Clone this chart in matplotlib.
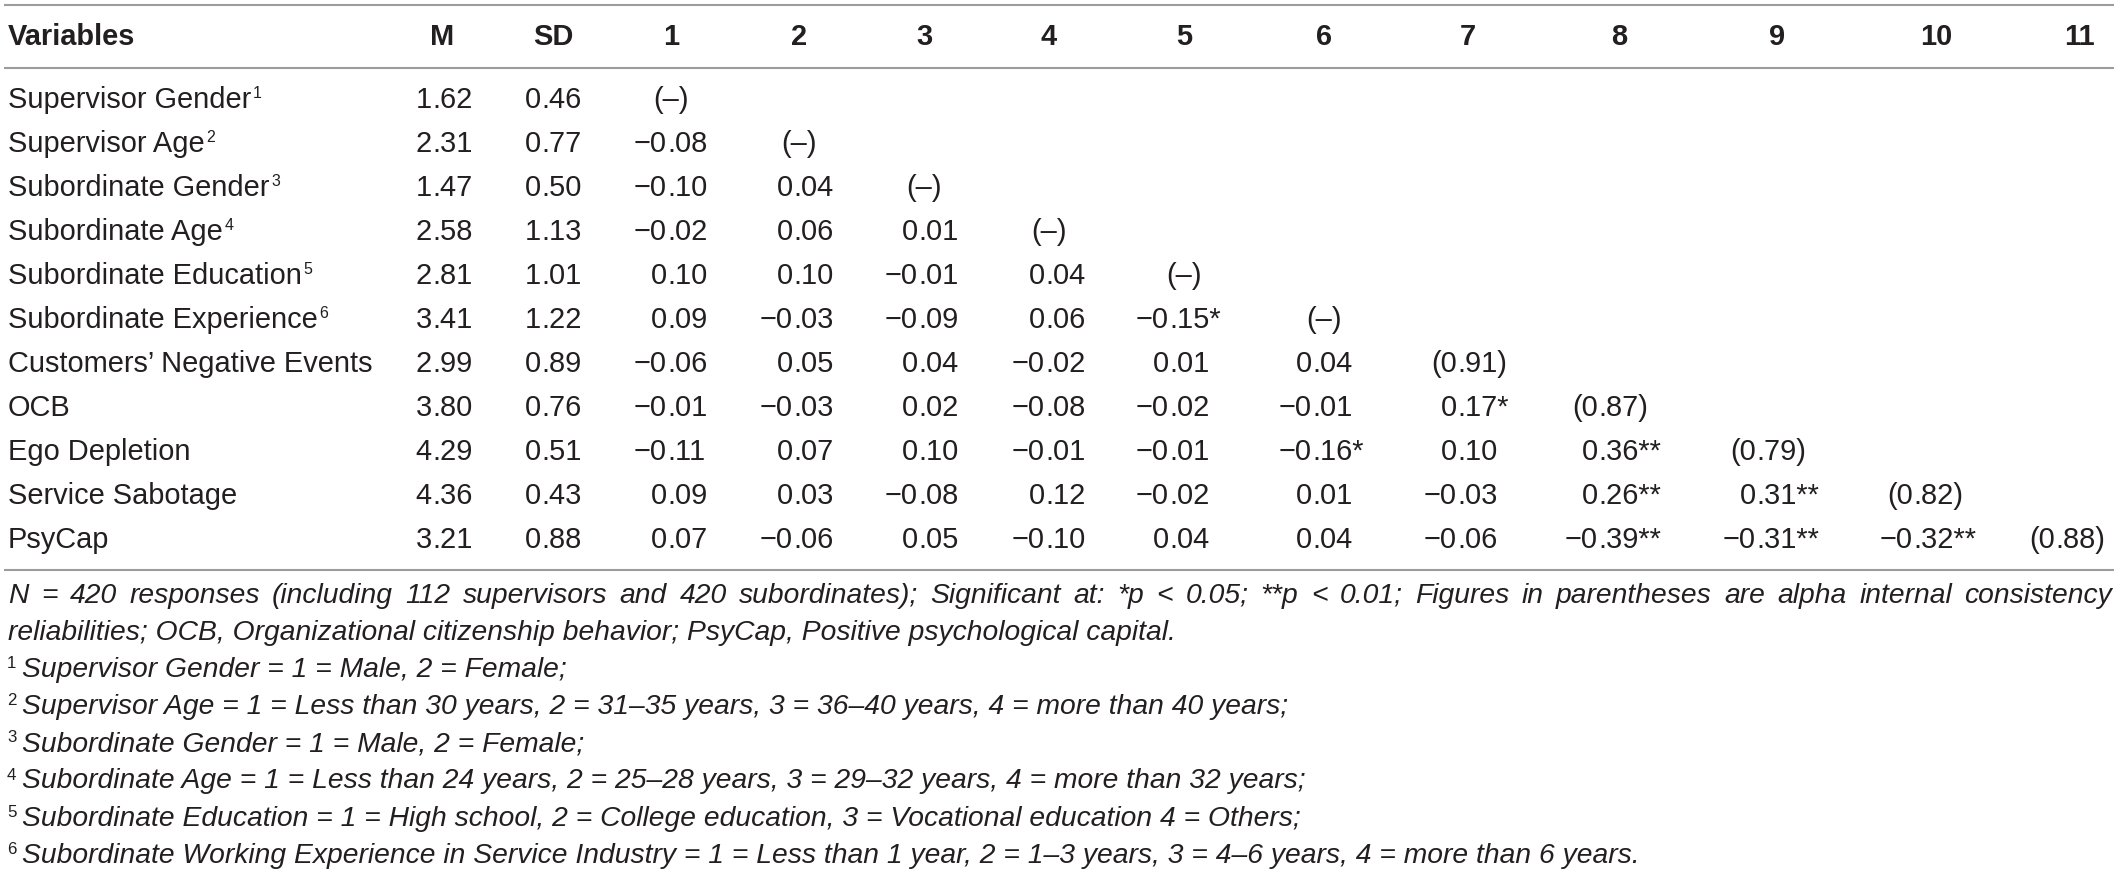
import matplotlib
matplotlib.use("Agg")
import matplotlib.pyplot as plt

#table contents
variables = ["Supervisor Gender", "Supervisor Age", "Subordinate Gender", "Subordinate Age",
             "Subordinate Education", "Subordinate Experience", "Customers\u2019 Negative Events",
             "OCB", "Ego Depletion", "Service Sabotage", "PsyCap"]
note_marks = [1, 2, 3, 4, 5, 6, None, None, None, None, None]
means = [1.62, 2.31, 1.47, 2.58, 2.81, 3.41, 2.99, 3.80, 4.29, 4.36, 3.21]
sds = [0.46, 0.77, 0.50, 1.13, 1.01, 1.22, 0.89, 0.76, 0.51, 0.43, 0.88]

#lower triangle of correlations (row i holds columns 1..i)
corr = [
    [],
    [-0.08],
    [-0.10, 0.04],
    [-0.02, 0.06, 0.01],
    [0.10, 0.10, -0.01, 0.04],
    [0.09, -0.03, -0.09, 0.06, -0.15],
    [-0.06, 0.05, 0.04, -0.02, 0.01, 0.04],
    [-0.01, -0.03, 0.02, -0.08, -0.02, -0.01, 0.17],
    [-0.11, 0.07, 0.10, -0.01, -0.01, -0.16, 0.10, 0.36],
    [0.09, 0.03, -0.08, 0.12, -0.02, 0.01, -0.03, 0.26, 0.31],
    [0.07, -0.06, 0.05, -0.10, 0.04, 0.04, -0.06, -0.39, -0.31, -0.32],
]
#number of significance stars for each correlation above
stars = [
    [],
    [0],
    [0, 0],
    [0, 0, 0],
    [0, 0, 0, 0],
    [0, 0, 0, 0, 1],
    [0, 0, 0, 0, 0, 0],
    [0, 0, 0, 0, 0, 0, 1],
    [0, 0, 0, 0, 0, 1, 0, 2],
    [0, 0, 0, 0, 0, 0, 0, 2, 2],
    [0, 0, 0, 0, 0, 0, 0, 2, 2, 2],
]
#diagonal: alpha reliabilities (None -> "(–)")
alphas = [None, None, None, None, None, None, 0.91, 0.87, 0.79, 0.82, 0.88]

headers = ["Variables", "M", "SD"] + [str(k) for k in range(1, 12)]

foot_main = ("N = 420 responses (including 112 supervisors and 420 subordinates); Significant at: "
             "*p < 0.05; **p < 0.01; Figures in parentheses are alpha internal consistency")
foot_second = "reliabilities; OCB, Organizational citizenship behavior; PsyCap, Positive psychological capital."
foot_notes = [
    "Supervisor Gender = 1 = Male, 2 = Female;",
    "Supervisor Age = 1 = Less than 30 years, 2 = 31\u201335 years, 3 = 36\u201340 years, 4 = more than 40 years;",
    "Subordinate Gender = 1 = Male, 2 = Female;",
    "Subordinate Age = 1 = Less than 24 years, 2 = 25\u201328 years, 3 = 29\u201332 years, 4 = more than 32 years;",
    "Subordinate Education = 1 = High school, 2 = College education, 3 = Vocational education 4 = Others;",
    "Subordinate Working Experience in Service Industry = 1 = Less than 1 year, 2 = 1\u20133 years, "
    "3 = 4\u20136 years, 4 = more than 6 years.",
]

#layout in pixels (figure is 2119 x 877 at dpi 100)
W, H = 2119, 877
header_centers = [None, 442, 553, 671, 799, 924, 1049, 1184, 1324, 1468, 1619, 1777, 1936, 2079]
dot_x = [432, 541, 667, 793, 918, 1045, 1169, 1312, 1457, 1598, 1756, 1913, 2055]  # decimal points: M, SD, 1..11
header_base = 45
row_base0, row_step = 108, 44.0
foot_base0, foot_step = 603, 37.1
INK = "#231f20"
RULE = "#9c9c9c"
FS = 20.9   # ~29 px

plt.rcParams['font.family'] = ['Liberation Sans', 'DejaVu Sans']

fig = plt.figure(figsize=(W / 100, H / 100), dpi=100)
ax = fig.add_axes([0, 0, 1, 1])
ax.set_xlim(0, W)
ax.set_ylim(H, 0)
ax.axis('off')
renderer = fig.canvas.get_renderer()


def width_of(s, **kw):
    t = ax.text(0, 0, s, **kw)
    w = t.get_window_extent(renderer).width
    t.remove()
    return w


def fmt(v):
    return f"{v:.2f}".replace("-", "\u2212")


def put_number(s, x_dot, y):
    #split at the decimal point so columns line up on it
    left, right = s.split(".", 1)
    ax.text(x_dot, y, left, ha='right', va='baseline', fontsize=FS, color=INK)
    ax.text(x_dot, y, "." + right, ha='left', va='baseline', fontsize=FS, color=INK)


#rules
ax.hlines([5, 68, 570], 4, 2114, color=RULE, lw=1.5)

#header
ax.text(8, header_base, headers[0], ha='left', va='baseline', fontsize=FS, fontweight='bold', color=INK)
for h, xc in zip(headers[1:], header_centers[1:]):
    ax.text(xc, header_base, h, ha='center', va='baseline', fontsize=FS, fontweight='bold', color=INK)

#body rows
for i, name in enumerate(variables):
    y = row_base0 + i * row_step
    ax.text(8, y, name, ha='left', va='baseline', fontsize=FS, color=INK)
    if note_marks[i] is not None:
        wl = width_of(name, fontsize=FS)
        ax.text(8 + wl + 2, y - 10, str(note_marks[i]), ha='left', va='baseline',
                fontsize=11.5, color=INK)
    put_number(f"{means[i]:.2f}", dot_x[0], y)
    put_number(f"{sds[i]:.2f}", dot_x[1], y)
    for j, v in enumerate(corr[i]):
        put_number(fmt(v) + "*" * stars[i][j], dot_x[2 + j], y)
    if alphas[i] is None:
        ax.text(header_centers[3 + i], y, "(\u2013)", ha='center', va='baseline', fontsize=FS, color=INK)
    else:
        put_number(f"({alphas[i]:.2f})", dot_x[2 + i], y)

#footnotes: fit italic size so the longest note matches the reference width
FOOT_KW = dict(style='italic', color=INK)
w20 = width_of(foot_notes[5], fontsize=20, style='italic')
FFS = 20 * 1610 / w20

#first line is justified across the full width
words = foot_main.split(" ")
widths = [width_of(wd, fontsize=FFS, style='italic') for wd in words]
gap = (2112 - 8 - sum(widths)) / (len(words) - 1)
x = 8
for wd, wdw in zip(words, widths):
    ax.text(x, foot_base0, wd, ha='left', va='baseline', fontsize=FFS, **FOOT_KW)
    x += wdw + gap

ax.text(8, foot_base0 + foot_step, foot_second, ha='left', va='baseline', fontsize=FFS, **FOOT_KW)

for k, note in enumerate(foot_notes):
    y = foot_base0 + (k + 2) * foot_step
    ax.text(7, y - 9, str(k + 1), ha='left', va='baseline', fontsize=FFS * 0.6, color=INK)
    ax.text(22, y, note, ha='left', va='baseline', fontsize=FFS, **FOOT_KW)

fig.savefig("out.png", dpi=100, facecolor='white')
